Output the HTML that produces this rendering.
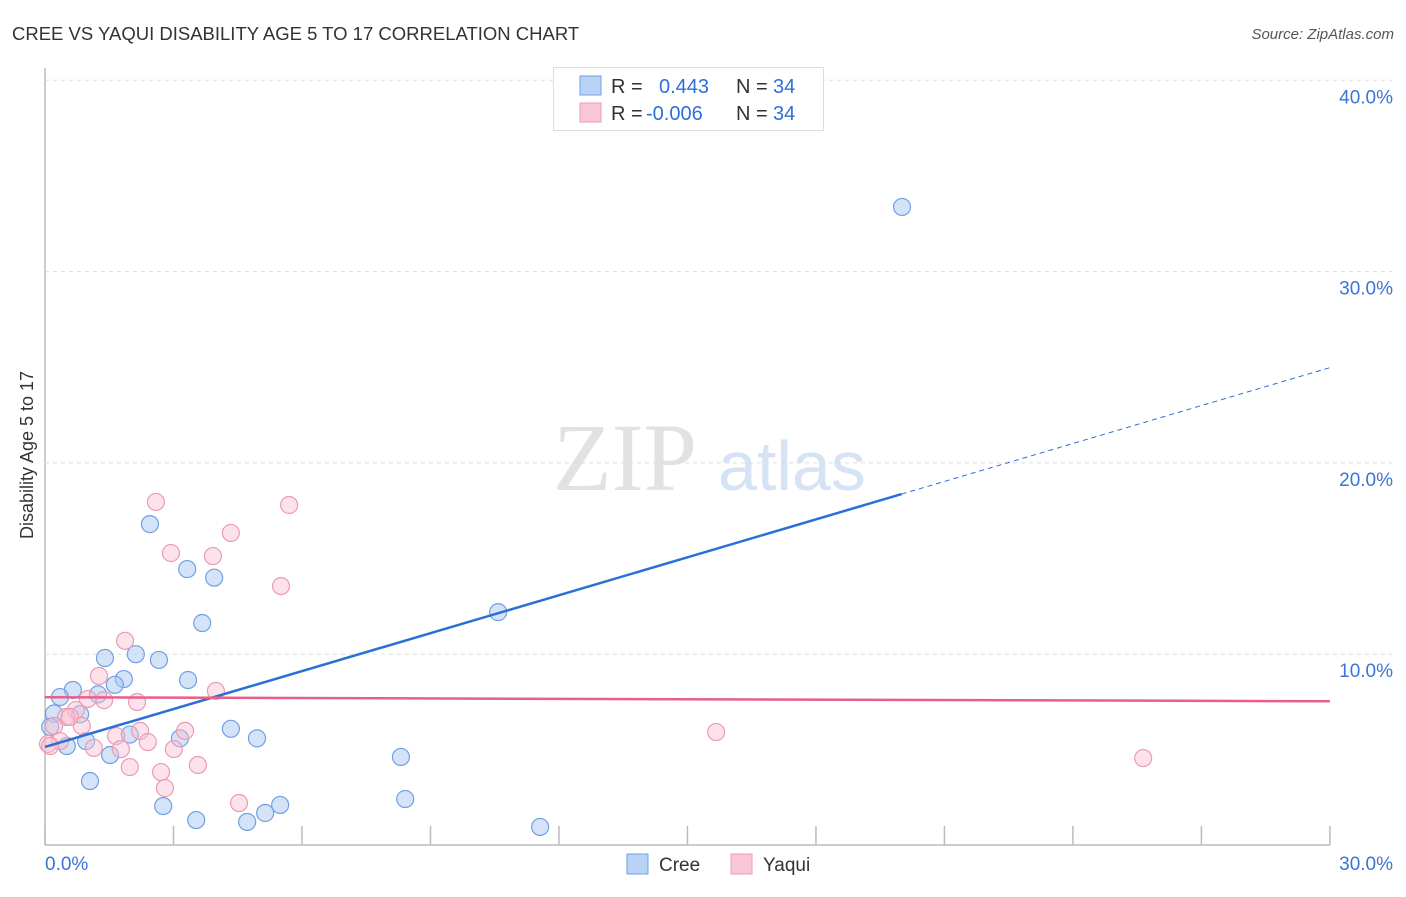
<!DOCTYPE html>
<html><head><meta charset="utf-8"><style>
body{margin:0;background:#fff;font-family:"Liberation Sans",sans-serif;}
svg text{font-family:"Liberation Sans",sans-serif;}
</style></head><body>
<svg id="chart" width="1406" height="892">
<text x="12" y="40" font-size="18.5" fill="#333">CREE VS YAQUI DISABILITY AGE 5 TO 17 CORRELATION CHART</text>
<text x="1394" y="39" font-size="15" fill="#555" font-style="italic" text-anchor="end">Source: ZipAtlas.com</text>
<text x="553" y="490" font-size="96" fill="#e2e2e2" style="font-family:'Liberation Serif',serif">ZIP</text>
<text x="718" y="490" font-size="70" fill="#d6e3f5">atlas</text>
<text transform="translate(33,455) rotate(-90)" font-size="18" fill="#333" text-anchor="middle">Disability Age 5 to 17</text>
<g id="grid"></g><g id="marks"></g>
<g>
<rect x="553.5" y="67.5" width="270" height="63" fill="#fff" stroke="#ddd"/>
<rect x="580" y="76" width="21" height="19" fill="#b8d3f5" stroke="#6fa0e6"/>
<rect x="580" y="103" width="21" height="19" fill="#f9c6d5" stroke="#ee9ab3"/>
<text x="611" y="93" font-size="20" fill="#333">R = </text><text x="659" y="93" font-size="20" fill="#2f6fd6">0.443</text>
<text x="736" y="93" font-size="20" fill="#333">N = </text><text x="773" y="93" font-size="20" fill="#2f6fd6">34</text>
<text x="611" y="120" font-size="20" fill="#333">R = </text><text x="646" y="120" font-size="20" fill="#2f6fd6">-0.006</text>
<text x="736" y="120" font-size="20" fill="#333">N = </text><text x="773" y="120" font-size="20" fill="#2f6fd6">34</text>
</g>
<g>
<rect x="627" y="854" width="21" height="20" fill="#b8d3f5" stroke="#6fa0e6"/>
<text x="659" y="871" font-size="19" fill="#333">Cree</text>
<rect x="731" y="854" width="21" height="20" fill="#f9c6d5" stroke="#ee9ab3"/>
<text x="763" y="871" font-size="19" fill="#333">Yaqui</text>
</g>
</svg>
<script>
const yTicks=[10,20,30,40];
const yTickLabels=["10.0%","20.0%","30.0%","40.0%"];
const xTicks=[0,3,6,9,12,15,18,21,24,27,30];
const creeX=[20.01,2.45,3.32,3.95,3.67,10.58,1.40,2.12,2.66,3.34,1.84,1.63,1.24,0.65,0.35,0.21,0.82,0.12,1.98,3.15,4.34,4.95,0.96,0.51,1.52,8.31,1.05,8.41,2.76,5.49,5.14,4.72,3.53,11.56];
const creeY=[33.38,16.8,14.45,14.0,11.63,12.2,9.8,10.0,9.7,8.65,8.7,8.4,7.9,8.13,7.76,6.9,6.86,6.2,5.8,5.6,6.1,5.6,5.46,5.2,4.73,4.63,3.37,2.43,2.06,2.12,1.7,1.23,1.33,0.97];
const yaquiX=[2.59,5.70,4.34,2.94,3.92,5.51,1.87,1.26,3.99,2.15,1.38,1.0,0.72,0.49,0.86,0.21,3.27,2.22,1.66,0.35,2.40,0.07,1.77,1.14,3.01,3.57,1.98,2.71,2.80,4.53,15.67,25.64,0.12,0.58];
const yaquiY=[17.96,17.8,16.34,15.29,15.13,13.56,10.7,8.86,8.08,7.5,7.6,7.66,7.08,6.72,6.25,6.25,5.99,5.99,5.72,5.46,5.41,5.31,5.04,5.1,5.04,4.21,4.1,3.84,3.0,2.22,5.93,4.57,5.2,6.72];
const creeTrend=[5.15,24.98];
const yaquiTrend=[7.75,7.54];
const X=v=>45+v*42.83, Y=v=>845.5-v*19.13;
const NS="http://www.w3.org/2000/svg";
function mk(t,a,p){const e=document.createElementNS(NS,t);for(const k in a)e.setAttribute(k,a[k]);p.appendChild(e);return e;}
const g=document.getElementById('grid'), m=document.getElementById('marks');
mk('line',{x1:45,y1:68,x2:45,y2:845,stroke:'#bbb','stroke-width':1.5},g);
mk('line',{x1:45,y1:845,x2:1330,y2:845,stroke:'#bbb','stroke-width':1.5},g);
yTicks.forEach((t,i)=>{
 const l=mk('line',{x1:45,x2:1392,y1:Y(t),y2:Y(t),stroke:'#ddd','stroke-dasharray':'4,4'},g);
 
 
 const tx=mk('text',{x:1393,y:Y(t)+23,'font-size':19,fill:'#3b74d8','text-anchor':'end'},g);tx.textContent=yTickLabels[i];
 
 
});
xTicks.forEach(t=>{
 const l=mk('line',{x1:X(t),x2:X(t),y1:826,y2:845,stroke:'#bbb','stroke-width':1.5},g);
 
 
});
let t1=mk('text',{x:45,y:870,'font-size':19,fill:'#3b74d8'},g);t1.textContent='0.0%';


let t2=mk('text',{x:1393,y:870,'font-size':19,fill:'#3b74d8','text-anchor':'end'},g);t2.textContent='30.0%';


creeX.forEach((x,i)=>{const c=mk('circle',{cx:X(x),cy:Y(creeY[i]),r:8.5,fill:'rgba(170,200,240,0.5)',stroke:'#6fa0e6','stroke-width':1.2},m);
 
 });
yaquiX.forEach((x,i)=>{const c=mk('circle',{cx:X(x),cy:Y(yaquiY[i]),r:8.5,fill:'rgba(248,190,208,0.45)',stroke:'#ee9ab3','stroke-width':1.2},m);
 
 });
const cy=x=>creeTrend[0]+(creeTrend[1]-creeTrend[0])*x/30;
let a=mk('line',{x1:X(0),y1:Y(cy(0)),x2:X(20),y2:Y(cy(20)),stroke:'#2a6fd6','stroke-width':2.5},m);


let b=mk('line',{x1:X(20),y1:Y(cy(20)),x2:X(30),y2:Y(cy(30)),stroke:'#2a6fd6','stroke-width':1,'stroke-dasharray':'5,4'},m);


let c=mk('line',{x1:X(0),y1:Y(yaquiTrend[0]),x2:X(30),y2:Y(yaquiTrend[1]),stroke:'#e8608a','stroke-width':2.5},m);


</script>
</body></html>
